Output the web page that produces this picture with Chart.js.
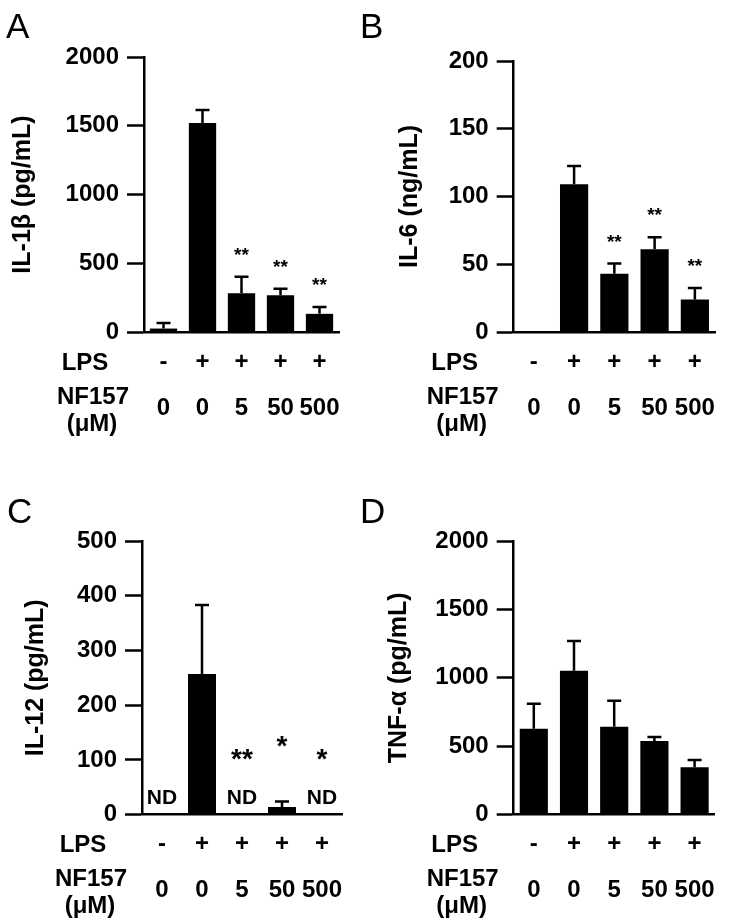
<!DOCTYPE html>
<html>
<head>
<meta charset="utf-8">
<script src="https://cdn.jsdelivr.net/npm/chart.js@4.4.1/dist/chart.umd.min.js"></script>
<style>
  body { margin: 0; background: #fff; }
  #fig { position: relative; width: 734px; height: 921px; }
  canvas { position: absolute; }
</style>
</head>
<body>
<div id="fig">
  <canvas id="cA" width="355" height="460" style="left:0;top:0"></canvas>
  <canvas id="cB" width="379" height="460" style="left:355px;top:0"></canvas>
  <canvas id="cC" width="355" height="461" style="left:0;top:460px"></canvas>
  <canvas id="cD" width="379" height="461" style="left:355px;top:460px"></canvas>
</div>
<script>
// treatment groups
var lpsSigns = ['-', '+', '+', '+', '+'];
var doses = ['0', '0', '5', '50', '500'];

// means and error (SD, upward only)
var il1bMean = [25, 1520, 282, 268, 132];
var il1bErr = [40, 95, 120, 47, 50];
var il1bStars = ['', '', '**', '**', '**'];

var il6Mean = [0, 109, 43, 61, 24];
var il6Err = [null, 13.5, 7.5, 9, 8.5];
var il6Stars = ['', '', '**', '**', '**'];

var il12Mean = [null, 257, null, 14, null];
var il12Err = [null, 126, null, 10, null];
var il12Stars = ['', '', '**', '*', '*'];
var il12Nd = ['ND', '', 'ND', '', 'ND'];

var tnfMean = [628, 1052, 643, 538, 346];
var tnfErr = [183, 217, 190, 30, 54];

var FONT = '"Liberation Sans", Arial, Helvetica, sans-serif';
var FS = 24;

// draws error bars, stars, ND, row headers and panel letter
var extras = {
  id: 'extras',
  afterDatasetsDraw: function(chart, args, o) {
    var ctx = chart.ctx;
    var y = chart.scales.y;
    var meta = chart.getDatasetMeta(0);
    var zero = y.getPixelForValue(0);
    var axisX = chart.chartArea.left;
    ctx.save();
    ctx.strokeStyle = '#000';
    ctx.fillStyle = '#000';
    ctx.lineWidth = 2.5;
    o.mean.forEach(function(v, i) {
      var cx = meta.data[i].x;
      var top = zero;
      if (v != null && o.err[i] != null) {
        var y0 = y.getPixelForValue(v);
        top = y.getPixelForValue(v + o.err[i]);
        ctx.beginPath();
        ctx.moveTo(cx, y0);
        ctx.lineTo(cx, top);
        ctx.moveTo(cx - 7, top);
        ctx.lineTo(cx + 7, top);
        ctx.stroke();
      }
      if (o.stars && o.stars[i]) {
        ctx.font = 'bold ' + o.starSize + 'px ' + FONT;
        ctx.textAlign = 'center';
        ctx.textBaseline = 'alphabetic';
        ctx.fillText(o.stars[i], cx, top - o.starLift);
      }
      if (o.nd && o.nd[i]) {
        ctx.font = 'bold 21px ' + FONT;
        ctx.textAlign = 'center';
        ctx.textBaseline = 'alphabetic';
        ctx.fillText(o.nd[i], cx, zero - 11);
      }
    });
    // row headers under the axis
    ctx.font = 'bold ' + FS + 'px ' + FONT;
    ctx.textAlign = 'center';
    ctx.textBaseline = 'middle';
    ctx.fillText('LPS', axisX - 59, zero + 31);
    ctx.fillText('NF157', axisX - 51, zero + 65);
    ctx.fillText('(\u03bcM)', axisX - 52, zero + 92);
    // panel letter
    ctx.font = '35px ' + FONT;
    ctx.textAlign = 'left';
    ctx.textBaseline = 'alphabetic';
    ctx.fillText(o.letter, o.letterX, o.letterY);
    ctx.restore();
  }
};

function makePanel(p) {
  var labels = lpsSigns.map(function(s, i) { return [s, doses[i]]; });
  var xH = 100;
  new Chart(document.getElementById(p.id), {
    type: 'bar',
    data: {
      labels: labels,
      datasets: [{
        data: p.mean,
        backgroundColor: '#000',
        borderWidth: 0,
        categoryPercentage: 1,
        barPercentage: 0.7
      }]
    },
    options: {
      responsive: false,
      animation: false,
      layout: {
        padding: { left: 0, top: p.axisTop, right: p.w - p.right, bottom: p.h - p.zero - xH }
      },
      plugins: {
        legend: { display: false },
        tooltip: { enabled: false },
        extras: {
          mean: p.mean, err: p.err, stars: p.stars, nd: p.nd,
          starSize: p.starSize, starLift: p.starLift,
          letter: p.letter, letterX: p.letterX, letterY: p.letterY
        }
      },
      scales: {
        x: {
          afterFit: function(s) { s.height = xH; },
          grid: { display: false, drawTicks: false },
          border: { display: true, color: '#000', width: 2.5 },
          ticks: {
            color: '#000',
            autoSkip: false,
            maxRotation: 0,
            padding: 7,
            font: { family: FONT, size: FS, weight: 'bold', lineHeight: 46 / FS }
          }
        },
        y: {
          min: 0,
          max: p.max,
          afterFit: function(s) { s.width = p.axisX; },
          grid: {
            display: true, drawOnChartArea: false, drawTicks: true,
            tickLength: 17, tickWidth: 2.5, tickColor: '#000'
          },
          border: { display: true, color: '#000', width: 2.5 },
          ticks: {
            stepSize: p.step,
            color: '#000',
            padding: 8,
            callback: function(v) { return String(v); },
            font: { family: FONT, size: FS, weight: 'bold' }
          },
          title: {
            display: true,
            text: p.title,
            color: '#000',
            padding: { top: p.titleX - 15, bottom: 0 },
            font: { family: FONT, size: 25, weight: 'bold' }
          }
        }
      }
    },
    plugins: [extras]
  });
}

makePanel({ id: 'cA', w: 355, h: 460, axisX: 144, axisTop: 57, zero: 332, right: 339,
  max: 2000, step: 500, title: 'IL-1\u03b2 (pg/mL)', titleX: 23,
  mean: il1bMean, err: il1bErr, stars: il1bStars, starSize: 19, starLift: 16,
  letter: 'A', letterX: 6, letterY: 38 });

makePanel({ id: 'cB', w: 379, h: 460, axisX: 158.7, axisTop: 61, zero: 332, right: 360,
  max: 200, step: 50, title: 'IL-6 (ng/mL)', titleX: 55,
  mean: il6Mean, err: il6Err, stars: il6Stars, starSize: 19, starLift: 16,
  letter: 'B', letterX: 5, letterY: 38 });

makePanel({ id: 'cC', w: 355, h: 461, axisX: 142, axisTop: 81, zero: 354.7, right: 342,
  max: 500, step: 100, title: 'IL-12 (pg/mL)', titleX: 36,
  mean: il12Mean, err: il12Err, stars: il12Stars, nd: il12Nd, starSize: 28, starLift: 47,
  letter: 'C', letterX: 7, letterY: 63 });

makePanel({ id: 'cD', w: 379, h: 461, axisX: 158.7, axisTop: 81, zero: 354.7, right: 359.7,
  max: 2000, step: 500, title: 'TNF-\u03b1 (pg/mL)', titleX: 44.5,
  mean: tnfMean, err: tnfErr,
  letter: 'D', letterX: 5, letterY: 63 });
</script>
</body>
</html>
